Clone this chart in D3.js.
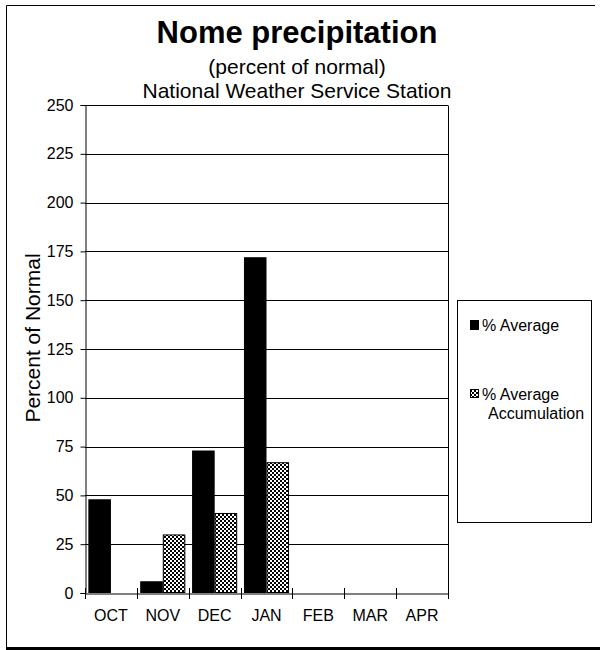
<!DOCTYPE html>
<html>
<head>
<meta charset="utf-8">
<script src="https://cdn.jsdelivr.net/npm/d3@7"></script>
<style>
  html, body { margin: 0; padding: 0; background: #fff; }
  svg { display: block; font-family: Arial, "Liberation Sans", sans-serif; }
</style>
</head>
<body>
<svg id="chart" width="600" height="650"></svg>
<script>
// ---- data ----
const categories = ["OCT", "NOV", "DEC", "JAN", "FEB", "MAR", "APR"];
const seriesNames = ["% Average", "% Average Accumulation"];
const pctAverage = [48, 6, 73, 172, null, null, null];
const pctAccumulation = [null, 30, 41, 67, null, null, null];
const yTicks = [0, 25, 50, 75, 100, 125, 150, 175, 200, 225, 250];
const titleText = "Nome precipitation";
const subtitle1 = "(percent of normal)";
const subtitle2 = "National Weather Service Station";
const yAxisLabel = "Percent of Normal";

// ---- layout ----
const svg = d3.select("#chart");
const plot = { left: 85, right: 448, top: 105, bottom: 593 };

const defs = svg.append("defs");
const pat = defs.append("pattern")
  .attr("id", "checker").attr("patternUnits", "userSpaceOnUse")
  .attr("width", 4).attr("height", 4);
pat.append("rect").attr("width", 4).attr("height", 4).attr("fill", "#fff");
pat.append("rect").attr("x", 0).attr("y", 0).attr("width", 2).attr("height", 2).attr("fill", "#000");
pat.append("rect").attr("x", 2).attr("y", 2).attr("width", 2).attr("height", 2).attr("fill", "#000");

// outer chart border
svg.append("line").attr("x1", 6.5).attr("x2", 595).attr("y1", 5.5).attr("y2", 5.5).attr("stroke", "#000");
svg.append("line").attr("x1", 6.5).attr("x2", 6.5).attr("y1", 5.5).attr("y2", 648).attr("stroke", "#000");
svg.append("line").attr("x1", 6).attr("x2", 600).attr("y1", 648.5).attr("y2", 648.5).attr("stroke", "#000").attr("stroke-width", 3);

// titles
const cx = 297;
svg.append("text").attr("x", cx).attr("y", 43).attr("text-anchor", "middle")
  .attr("font-size", 31).attr("font-weight", "bold").text(titleText);
svg.append("text").attr("x", cx).attr("y", 74).attr("text-anchor", "middle")
  .attr("font-size", 21).text(subtitle1);
svg.append("text").attr("x", cx).attr("y", 98).attr("text-anchor", "middle")
  .attr("font-size", 21).text(subtitle2);

// scales
const x0 = d3.scaleBand().domain(categories).range([plot.left, plot.right]).padding(0);
const x1 = d3.scaleBand().domain(seriesNames).range([0, x0.bandwidth()]).paddingInner(0).paddingOuter(0.15);
const y = d3.scaleLinear().domain([0, 250]).range([plot.bottom, plot.top]);

// gridlines
svg.append("g").selectAll("line").data(yTicks.filter(d => d > 0)).join("line")
  .attr("x1", plot.left).attr("x2", plot.right)
  .attr("y1", d => Math.round(y(d)) + 0.5).attr("y2", d => Math.round(y(d)) + 0.5)
  .attr("stroke", "#000").attr("stroke-width", 1);
// plot frame right side
svg.append("line").attr("x1", plot.right + 0.5).attr("x2", plot.right + 0.5)
  .attr("y1", Math.round(y(250)) + 0.5).attr("y2", plot.bottom).attr("stroke", "#000");

// bars
const rows = categories.map((c, i) => ({ cat: c, vals: [pctAverage[i], pctAccumulation[i]] }));
const g = svg.append("g");
rows.forEach(r => {
  r.vals.forEach((v, j) => {
    if (v == null) return;
    g.append("rect")
      .attr("x", x0(r.cat) + x1(seriesNames[j]) + 0.5)
      .attr("y", y(v) + 0.5)
      .attr("width", x1.bandwidth() - 1)
      .attr("height", y(0) - y(v) - 1)
      .attr("fill", j === 0 ? "#000" : "url(#checker)")
      .attr("stroke", "#000").attr("stroke-width", 1);
  });
});

// y axis
const yAxis = d3.axisLeft(y).tickValues(yTicks).tickSize(5).tickPadding(7);
const ya = svg.append("g").attr("transform", `translate(${plot.left + 0.5},0)`).call(yAxis);
ya.selectAll("text").attr("font-size", 16).attr("font-family", "Arial, 'Liberation Sans', sans-serif").attr("fill", "#000");
ya.selectAll("line").attr("stroke", "#000");
ya.select(".domain").attr("stroke", "#000");

// x axis
const xAxis = d3.axisBottom(x0).tickSize(0).tickPadding(16);
const xa = svg.append("g").attr("transform", `translate(0,${plot.bottom + 0.5})`).call(xAxis);
xa.select(".domain").attr("stroke", "#000");
xa.selectAll("text").attr("font-size", 16).attr("font-family", "Arial, 'Liberation Sans', sans-serif").attr("fill", "#000");
// category boundary ticks
const bounds = categories.map(c => x0(c)).concat([plot.right]);
svg.append("g").selectAll("line").data(bounds).join("line")
  .attr("x1", d => Math.round(d) + 0.5).attr("x2", d => Math.round(d) + 0.5)
  .attr("y1", plot.bottom - 5).attr("y2", plot.bottom + 6)
  .attr("stroke", "#000");

// y axis title
svg.append("text")
  .attr("transform", `translate(40,${(plot.top + plot.bottom) / 2 - 11}) rotate(-90)`)
  .attr("text-anchor", "middle").attr("font-size", 21).text(yAxisLabel);

// legend
const lg = svg.append("g");
lg.append("rect").attr("x", 457.5).attr("y", 300.5).attr("width", 134).attr("height", 222)
  .attr("fill", "#fff").attr("stroke", "#000");
lg.append("rect").attr("x", 470.5).attr("y", 320.5).attr("width", 8).attr("height", 9)
  .attr("fill", "#000").attr("stroke", "#000");
lg.append("text").attr("x", 482).attr("y", 331).attr("font-size", 16).text(seriesNames[0]);
lg.append("rect").attr("x", 470.5).attr("y", 389.5).attr("width", 8).attr("height", 8)
  .attr("fill", "url(#checker)").attr("stroke", "#000");
const parts = ["% Average", "Accumulation"];
lg.append("text").attr("x", 482).attr("y", 400).attr("font-size", 16).text(parts[0]);
lg.append("text").attr("x", 488).attr("y", 419).attr("font-size", 16).text(parts[1]);
</script>
</body>
</html>
